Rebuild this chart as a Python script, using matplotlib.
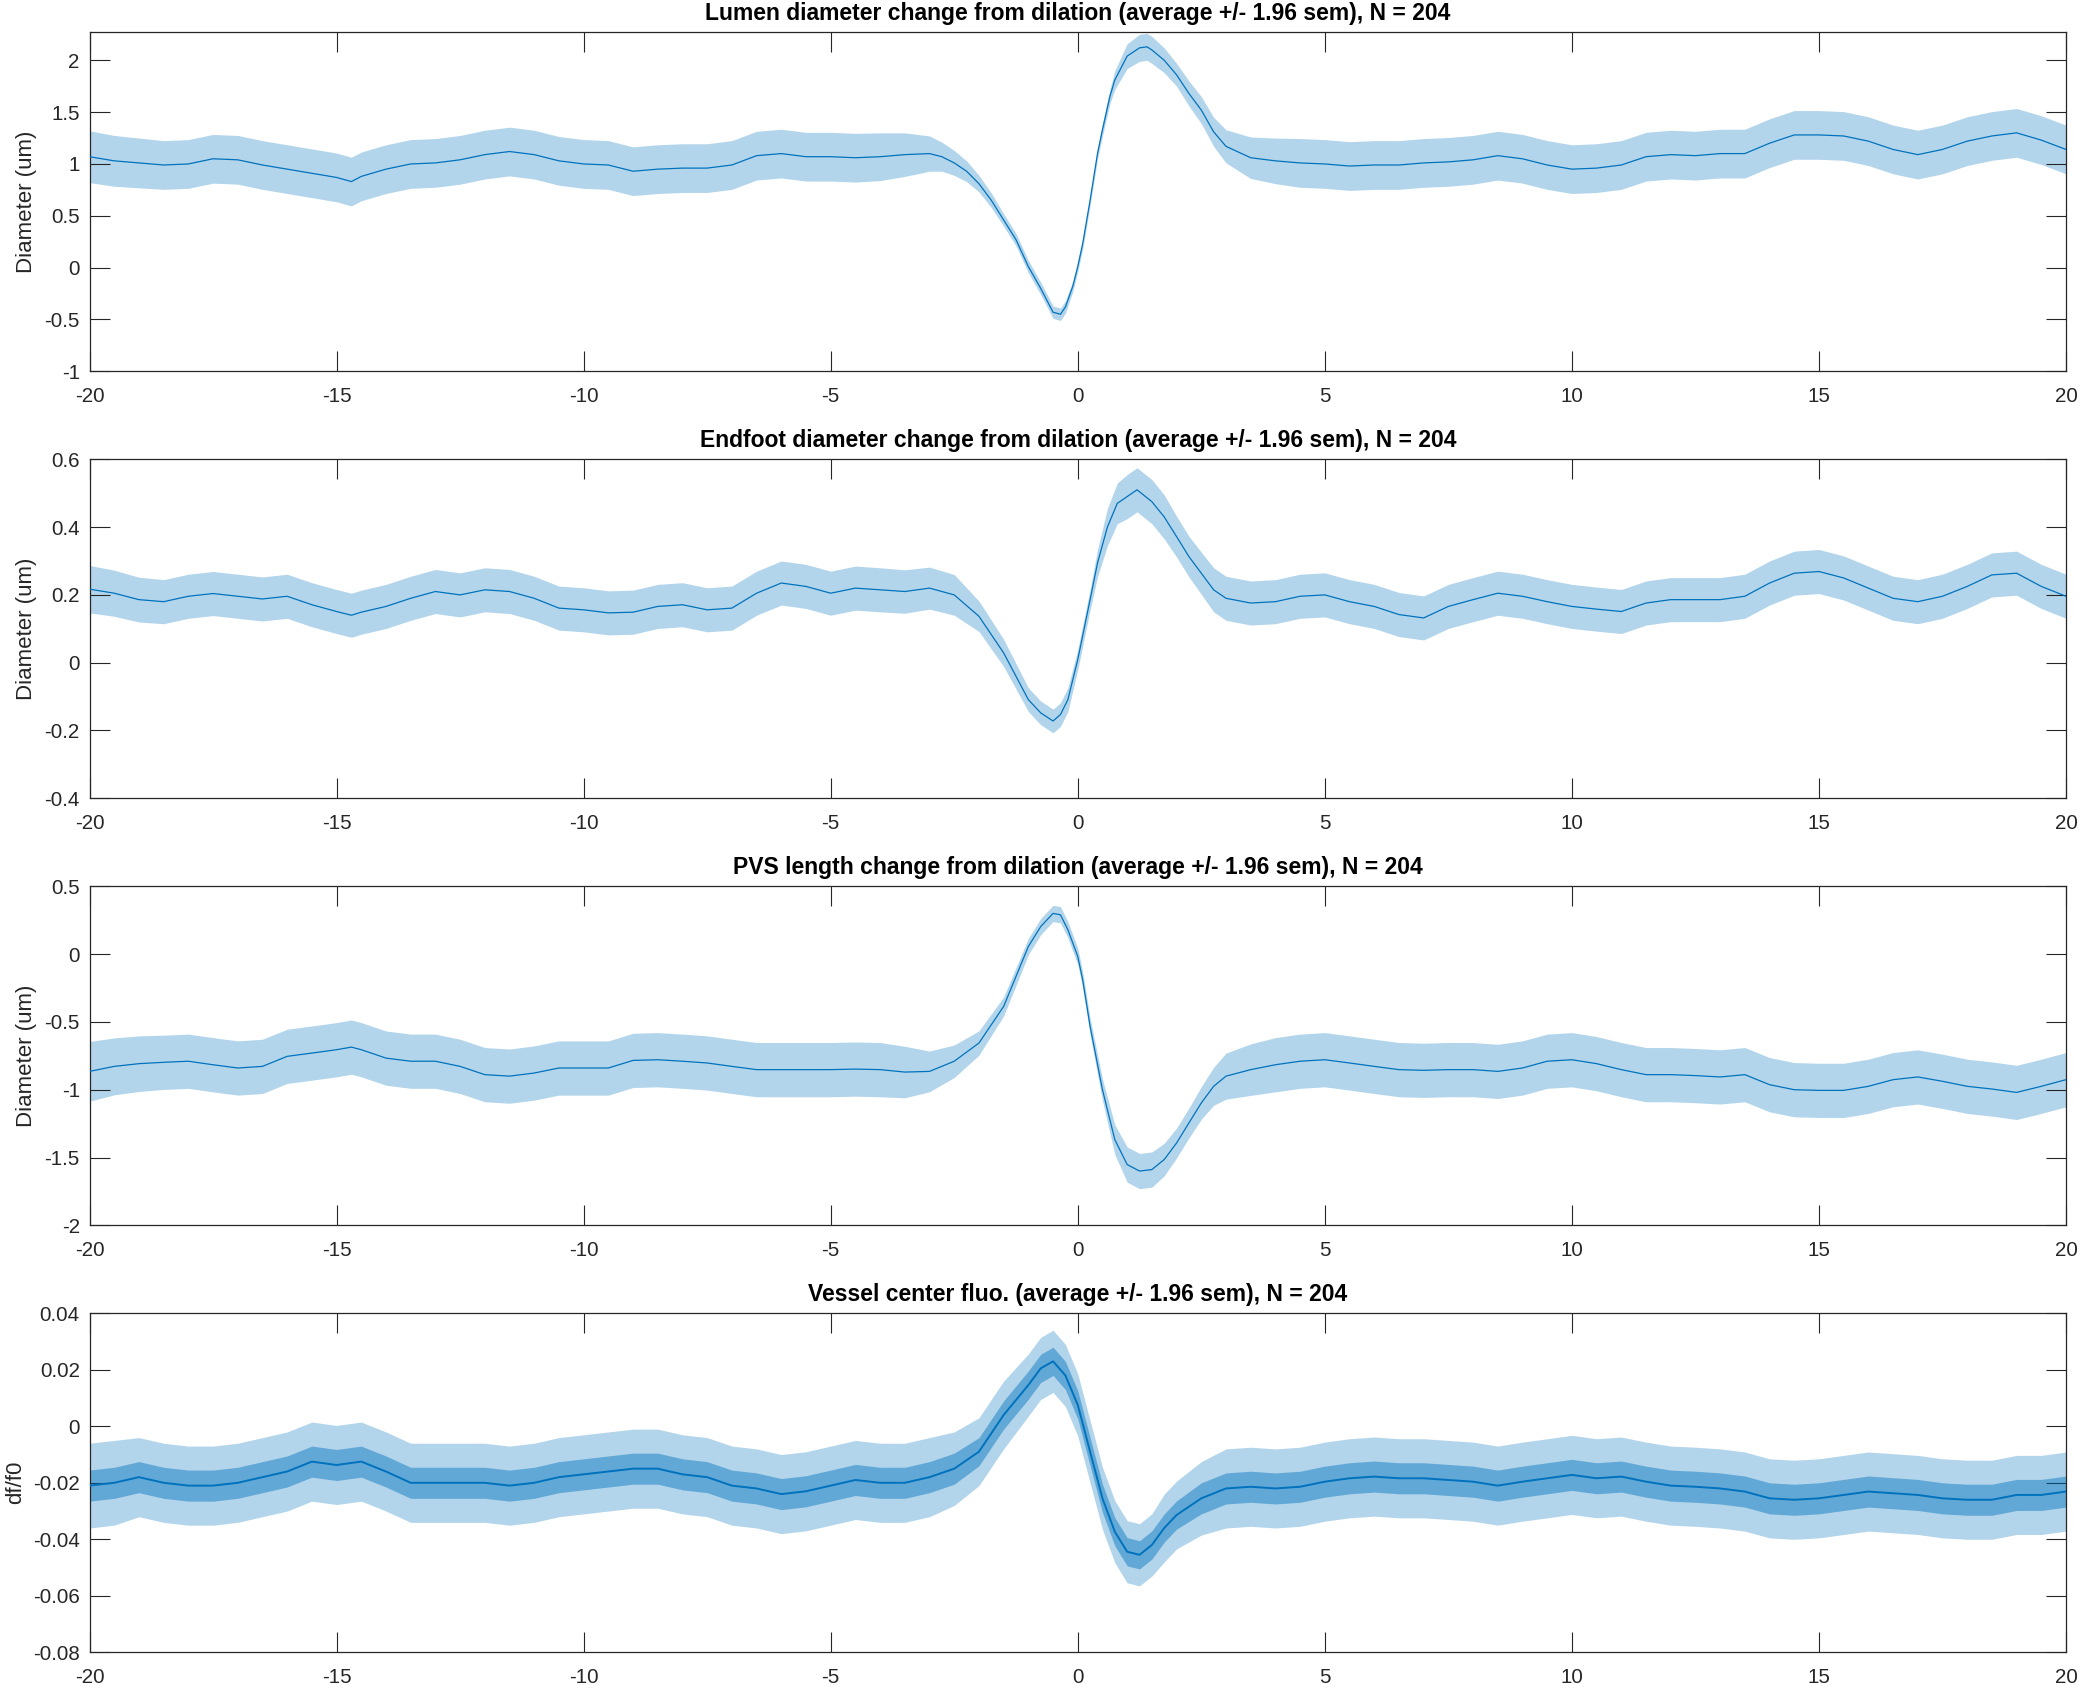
import numpy as np
import matplotlib
matplotlib.use('Agg')
import matplotlib.pyplot as plt

plt.rcParams['font.family'] = ['Liberation Sans', 'DejaVu Sans']
plt.rcParams['axes.unicode_minus'] = False

# ---------------- data ----------------
x_ticks = [-20, -15, -10, -5, 0, 5, 10, 15, 20]
x_ticklabels = ['-20', '-15', '-10', '-5', '0', '5', '10', '15', '20']

titles = [
    'Lumen diameter change from dilation (average +/- 1.96 sem), N = 204',
    'Endfoot diameter change from dilation (average +/- 1.96 sem), N = 204',
    'PVS length change from dilation (average +/- 1.96 sem), N = 204',
    'Vessel center fluo. (average +/- 1.96 sem), N = 204',
]
ylabels = ['Diameter (um)', 'Diameter (um)', 'Diameter (um)', 'df/f0']

# Panel 1: lumen
lumen_t = [-20, -19.5, -19, -18.5, -18, -17.5, -17, -16.5, -16, -15.5, -15, -14.7, -14.5, -14,
           -13.5, -13, -12.5, -12, -11.5, -11, -10.5, -10, -9.5, -9, -8.5, -8, -7.5, -7, -6.5,
           -6, -5.5, -5, -4.5, -4, -3.5, -3,
           -2.75, -2.5, -2.25, -2, -1.75, -1.5, -1.25, -1, -0.75, -0.5, -0.35, -0.25, -0.1, 0,
           0.1, 0.25, 0.4, 0.5, 0.65, 0.75, 1, 1.25, 1.4, 1.5, 1.75, 2, 2.25, 2.5, 2.75, 3,
           3.5, 4, 4.5, 5, 5.5, 6, 6.5, 7, 7.5, 8, 8.5, 9, 9.5, 10, 10.5, 11, 11.5, 12, 12.5, 13,
           13.5, 14, 14.5, 15, 15.5, 16, 16.5, 17, 17.5, 18, 18.5, 19, 19.5, 20]
lumen_mean = [1.07, 1.03, 1.01, 0.99, 1.00, 1.05, 1.04, 0.99, 0.95, 0.91, 0.87, 0.83, 0.88, 0.95,
              1.00, 1.01, 1.04, 1.09, 1.12, 1.09, 1.03, 1.00, 0.99, 0.93, 0.95, 0.96, 0.96, 0.99, 1.08,
              1.10, 1.07, 1.07, 1.06, 1.07, 1.09, 1.10,
              1.07, 1.01, 0.93, 0.81, 0.65, 0.46, 0.27, 0.01, -0.20, -0.43, -0.45, -0.38, -0.18, 0.01,
              0.23, 0.65, 1.10, 1.33, 1.65, 1.81, 2.04, 2.12, 2.13, 2.10, 2.00, 1.86, 1.68, 1.52, 1.31, 1.17,
              1.06, 1.03, 1.01, 1.00, 0.98, 0.99, 0.99, 1.01, 1.02, 1.04, 1.08, 1.05, 0.99, 0.95, 0.96, 0.99,
              1.07, 1.09, 1.08, 1.10, 1.10, 1.20, 1.28, 1.28, 1.27, 1.22, 1.14, 1.09, 1.14, 1.22, 1.27,
              1.30, 1.23, 1.14]
lumen_hw = [0.25, 0.245, 0.24, 0.235, 0.235, 0.235, 0.235, 0.235, 0.235, 0.235, 0.235, 0.235, 0.235, 0.235,
            0.235, 0.235, 0.235, 0.235, 0.235, 0.235, 0.235, 0.235, 0.235, 0.235, 0.235, 0.235, 0.235, 0.235, 0.235,
            0.235, 0.235, 0.235, 0.235, 0.23, 0.21, 0.17,
            0.14, 0.12, 0.10, 0.08, 0.07, 0.06, 0.06, 0.06, 0.06, 0.06, 0.06, 0.06, 0.05, 0.05,
            0.05, 0.05, 0.05, 0.06, 0.07, 0.09, 0.12, 0.13, 0.13, 0.13, 0.12, 0.11, 0.12, 0.13, 0.14, 0.16,
            0.20, 0.22, 0.235, 0.235, 0.235, 0.235, 0.235, 0.235, 0.235, 0.235, 0.235, 0.235, 0.235, 0.235, 0.235, 0.235,
            0.235, 0.235, 0.235, 0.235, 0.235, 0.235, 0.235, 0.235, 0.235, 0.235, 0.235, 0.235, 0.235, 0.235, 0.235,
            0.235, 0.235, 0.235]

# Panel 2: endfoot
endfoot_t = [-20, -19.5, -19, -18.5, -18, -17.5, -17, -16.5, -16, -15.5, -15, -14.7, -14.5, -14,
             -13.5, -13, -12.5, -12, -11.5, -11, -10.5, -10, -9.5, -9, -8.5, -8, -7.5, -7, -6.5,
             -6, -5.5, -5, -4.5, -4, -3.5, -3,
             -2.5, -2, -1.5, -1, -0.75, -0.5, -0.35, -0.2, 0, 0.25, 0.4, 0.6, 0.8, 1.0, 1.2, 1.5,
             1.75, 2, 2.25, 2.5, 2.75, 3,
             3.5, 4, 4.5, 5, 5.5, 6, 6.5, 7, 7.5, 8, 8.5, 9, 9.5, 10, 10.5, 11, 11.5, 12, 12.5, 13,
             13.5, 14, 14.5, 15, 15.5, 16, 16.5, 17, 17.5, 18, 18.5, 19, 19.5, 20]
endfoot_mean = [0.217, 0.205, 0.186, 0.18, 0.196, 0.204, 0.196, 0.188, 0.196, 0.171, 0.151, 0.14, 0.149, 0.166,
                0.19, 0.21, 0.20, 0.215, 0.21, 0.19, 0.161, 0.156, 0.147, 0.149, 0.166, 0.171, 0.156, 0.161, 0.205,
                0.235, 0.225, 0.205, 0.22, 0.215, 0.21, 0.22,
                0.20, 0.137, 0.029, -0.109, -0.148, -0.172, -0.153, -0.109, 0.009, 0.186, 0.294, 0.40, 0.47,
                0.49, 0.51, 0.475, 0.43, 0.372, 0.313, 0.264, 0.215, 0.19,
                0.176, 0.18, 0.196, 0.20, 0.18, 0.166, 0.142, 0.132, 0.166, 0.186, 0.205, 0.196, 0.18, 0.166,
                0.158, 0.151, 0.176, 0.186, 0.186, 0.186, 0.196, 0.235, 0.264, 0.269, 0.25, 0.22, 0.19, 0.18,
                0.196, 0.225, 0.259, 0.264, 0.225, 0.196]
endfoot_hw = [0.07, 0.068, 0.066, 0.065, 0.065, 0.065, 0.065, 0.065, 0.065, 0.065, 0.065, 0.065, 0.065, 0.065,
              0.065, 0.065, 0.065, 0.065, 0.065, 0.065, 0.065, 0.065, 0.065, 0.065, 0.065, 0.065, 0.065, 0.065, 0.065,
              0.065, 0.065, 0.065, 0.065, 0.065, 0.064, 0.062,
              0.06, 0.045, 0.04, 0.035, 0.035, 0.035, 0.035, 0.035, 0.03, 0.03, 0.04, 0.055, 0.06,
              0.065, 0.065, 0.065, 0.065, 0.06, 0.06, 0.062, 0.065, 0.065,
              0.065, 0.065, 0.065, 0.065, 0.065, 0.065, 0.065, 0.065, 0.065, 0.065, 0.065, 0.065, 0.065, 0.065,
              0.065, 0.065, 0.065, 0.065, 0.065, 0.065, 0.065, 0.065, 0.065, 0.065, 0.065, 0.065, 0.065, 0.065,
              0.065, 0.065, 0.065, 0.065, 0.065, 0.065]

# Panel 3: PVS length
pvs_t = [-20, -19.5, -19, -18.5, -18, -17.5, -17, -16.5, -16, -15.5, -15, -14.7, -14.5, -14,
         -13.5, -13, -12.5, -12, -11.5, -11, -10.5, -10, -9.5, -9, -8.5, -8, -7.5, -7, -6.5,
         -6, -5.5, -5, -4.5, -4, -3.5, -3,
         -2.5, -2, -1.5, -1, -0.75, -0.5, -0.35, -0.2, 0, 0.1, 0.25, 0.5, 0.75, 1, 1.25, 1.5,
         1.75, 2, 2.25, 2.5, 2.75, 3,
         3.5, 4, 4.5, 5, 5.5, 6, 6.5, 7, 7.5, 8, 8.5, 9, 9.5, 10, 10.5, 11, 11.5, 12, 12.5, 13,
         13.5, 14, 14.5, 15, 15.5, 16, 16.5, 17, 17.5, 18, 18.5, 19, 19.5, 20]
pvs_mean = [-0.865, -0.828, -0.808, -0.798, -0.79, -0.816, -0.84, -0.828, -0.754, -0.73, -0.705, -0.686,
            -0.705, -0.767, -0.79, -0.79, -0.828, -0.889, -0.90, -0.877, -0.84, -0.84, -0.84, -0.784,
            -0.779, -0.79, -0.803, -0.828, -0.852, -0.852, -0.852, -0.852, -0.848, -0.852, -0.87, -0.865,
            -0.79, -0.656, -0.386, 0.056, 0.203, 0.30, 0.29, 0.18, -0.017, -0.19, -0.533, -1.0, -1.368,
            -1.552, -1.60, -1.589, -1.515, -1.393, -1.245, -1.098, -0.975, -0.90,
            -0.852, -0.816, -0.79, -0.779, -0.803, -0.828, -0.852, -0.857, -0.852, -0.852, -0.865, -0.84,
            -0.79, -0.779, -0.808, -0.852, -0.889, -0.889, -0.896, -0.906, -0.889, -0.963, -1.0, -1.005,
            -1.005, -0.975, -0.926, -0.906, -0.938, -0.975, -0.995, -1.02, -0.975, -0.926]
pvs_hw = [0.22, 0.21, 0.205, 0.2, 0.2, 0.2, 0.2, 0.2, 0.2, 0.2, 0.2, 0.2, 0.2, 0.2,
          0.2, 0.2, 0.2, 0.2, 0.2, 0.2, 0.2, 0.2, 0.2, 0.2, 0.2, 0.2, 0.2, 0.2, 0.2,
          0.2, 0.2, 0.2, 0.2, 0.2, 0.19, 0.15,
          0.12, 0.09, 0.07, 0.06, 0.06, 0.06, 0.06, 0.06, 0.06, 0.06, 0.06, 0.08, 0.11,
          0.13, 0.13, 0.13, 0.12, 0.11, 0.11, 0.12, 0.14, 0.17,
          0.19, 0.2, 0.2, 0.2, 0.2, 0.2, 0.2, 0.2, 0.2, 0.2, 0.2, 0.2, 0.2, 0.2,
          0.2, 0.2, 0.2, 0.2, 0.2, 0.2, 0.2, 0.2, 0.2, 0.2, 0.2, 0.2, 0.2, 0.2,
          0.2, 0.2, 0.2, 0.2, 0.2, 0.2]

# Panel 4: vessel center fluorescence
fluo_t = [-20, -19.5, -19, -18.5, -18, -17.5, -17, -16.5, -16, -15.5, -15, -14.5, -14, -13.5,
          -13, -12.5, -12, -11.5, -11, -10.5, -10, -9.5, -9, -8.5, -8, -7.5, -7, -6.5, -6, -5.5,
          -5, -4.5, -4, -3.5, -3, -2.5, -2, -1.5, -1,
          -0.75, -0.5, -0.25, 0, 0.25, 0.5, 0.75, 1, 1.25, 1.5, 1.75, 2,
          2.5, 3, 3.5, 4, 4.5, 5, 5.5, 6, 6.5, 7, 7.5, 8, 8.5, 9, 9.5, 10, 10.5, 11, 11.5, 12,
          12.5, 13, 13.5, 14, 14.5, 15, 15.5, 16, 16.5, 17, 17.5, 18, 18.5, 19, 19.5, 20]
fluo_mean = [-0.021, -0.020, -0.018, -0.020, -0.021, -0.021, -0.020, -0.018, -0.016, -0.0125, -0.0137,
             -0.0125, -0.016, -0.020, -0.020, -0.020, -0.020, -0.021, -0.020, -0.018, -0.017, -0.016,
             -0.015, -0.015, -0.017, -0.018, -0.021, -0.022, -0.024, -0.023, -0.021, -0.019, -0.020,
             -0.020, -0.018, -0.015, -0.009, 0.004, 0.0146,
             0.0205, 0.023, 0.018, 0.0076, -0.009, -0.0255, -0.0373, -0.0444, -0.0455, -0.042, -0.036, -0.0314,
             -0.0255, -0.022, -0.0214, -0.022, -0.0214, -0.0196, -0.0184, -0.0178, -0.0184, -0.0184, -0.019,
             -0.0196, -0.021, -0.0196, -0.0184, -0.0172, -0.0184, -0.0178, -0.0196, -0.021, -0.0214, -0.022,
             -0.0231, -0.0255, -0.026, -0.0255, -0.0243, -0.0231, -0.0237, -0.0243, -0.0255, -0.026, -0.026,
             -0.0243, -0.0243, -0.0231]
fluo_hw = [0.015, 0.015, 0.014, 0.014, 0.014, 0.014, 0.014, 0.014, 0.014, 0.014, 0.014, 0.014, 0.014,
           0.014, 0.014, 0.014, 0.014, 0.014, 0.014, 0.014, 0.014, 0.014, 0.014, 0.014, 0.014, 0.014,
           0.014, 0.014, 0.014, 0.014, 0.014, 0.014, 0.014, 0.014, 0.014, 0.013, 0.012, 0.012, 0.011,
           0.011, 0.011, 0.011, 0.011, 0.011, 0.011, 0.011, 0.011, 0.011, 0.011, 0.012, 0.012,
           0.013, 0.014, 0.014, 0.014, 0.014, 0.014, 0.014, 0.014, 0.014, 0.014, 0.014, 0.014, 0.014,
           0.014, 0.014, 0.014, 0.014, 0.014, 0.014, 0.014, 0.014, 0.014, 0.014, 0.014, 0.014, 0.014,
           0.014, 0.014, 0.014, 0.014, 0.014, 0.014, 0.014, 0.014, 0.014, 0.014]
# visible spread of the noisy average trace itself
fluo_trace_spread = [0.0055, 0.0055, 0.0055, 0.0055, 0.0055, 0.0055, 0.0055, 0.0055, 0.0055, 0.0055, 0.0055,
                     0.0055, 0.0055, 0.0055, 0.0055, 0.0055, 0.0055, 0.0055, 0.0055, 0.0055, 0.0055, 0.0055,
                     0.0055, 0.0055, 0.0055, 0.0055, 0.0055, 0.0055, 0.0055, 0.0055, 0.0055, 0.0055, 0.0055,
                     0.0055, 0.0055, 0.0055, 0.005, 0.005, 0.005,
                     0.005, 0.005, 0.005, 0.005, 0.005, 0.005, 0.005, 0.005, 0.005, 0.005, 0.005, 0.005,
                     0.0055, 0.0055, 0.0055, 0.0055, 0.0055, 0.0055, 0.0055, 0.0055, 0.0055, 0.0055, 0.0055,
                     0.0055, 0.0055, 0.0055, 0.0055, 0.0055, 0.0055, 0.0055, 0.0055, 0.0055, 0.0055, 0.0055,
                     0.0055, 0.0055, 0.0055, 0.0055, 0.0055, 0.0055, 0.0055, 0.0055, 0.0055, 0.0055, 0.0055,
                     0.0055, 0.0055, 0.0055]

y_limits = [(-1, 2.27), (-0.4, 0.6), (-2, 0.5), (-0.08, 0.04)]
y_ticks = [[-1, -0.5, 0, 0.5, 1, 1.5, 2],
           [-0.4, -0.2, 0, 0.2, 0.4, 0.6],
           [-2, -1.5, -1, -0.5, 0, 0.5],
           [-0.08, -0.06, -0.04, -0.02, 0, 0.02, 0.04]]
y_ticklabels = [['-1', '-0.5', '0', '0.5', '1', '1.5', '2'],
                ['-0.4', '-0.2', '0', '0.2', '0.4', '0.6'],
                ['-2', '-1.5', '-1', '-0.5', '0', '0.5'],
                ['-0.08', '-0.06', '-0.04', '-0.02', '0', '0.02', '0.04']]

series = [(lumen_t, lumen_mean, lumen_hw, None),
          (endfoot_t, endfoot_mean, endfoot_hw, None),
          (pvs_t, pvs_mean, pvs_hw, None),
          (fluo_t, fluo_mean, fluo_hw, fluo_trace_spread)]

# ---------------- styling / layout ----------------
BAND = '#B3D5EB'
LINE = '#0072BD'
AXC = '#262626'
W, H = 2079, 1685
ax_left, ax_w, ax_h = 89.5, 1976.5, 339.0
ax_tops = [32.3, 459.3, 886.3, 1313.3]

fig = plt.figure(figsize=(W / 100, H / 100), dpi=100)
fig.patch.set_facecolor('white')

for i, (t, m, hw, spread) in enumerate(series):
    top = ax_tops[i]
    ax = fig.add_axes([ax_left / W, 1 - (top + ax_h) / H, ax_w / W, ax_h / H])
    t = np.asarray(t, dtype=float)
    m = np.asarray(m, dtype=float)
    hw = np.asarray(hw, dtype=float)
    ax.fill_between(t, m - hw, m + hw, color=BAND, linewidth=0, zorder=1)
    if spread is not None:
        sp = np.asarray(spread, dtype=float)
        ax.fill_between(t, m - sp, m + sp, color=LINE, alpha=0.45, linewidth=0, zorder=2)
        ax.plot(t, m, color=LINE, lw=1.4, zorder=3)
    else:
        ax.plot(t, m, color=LINE, lw=0.9, zorder=3)

    ax.set_xlim(-20, 20)
    ax.set_ylim(*y_limits[i])
    ax.set_xticks(x_ticks)
    ax.set_xticklabels(x_ticklabels)
    ax.set_yticks(y_ticks[i])
    ax.set_yticklabels(y_ticklabels[i])
    ax.tick_params(axis='both', direction='in', length=14.4, width=0.8, color=AXC,
                   labelcolor=AXC, labelsize=14.8, top=True, right=True)
    ax.tick_params(axis='x', pad=11.0)
    ax.tick_params(axis='y', pad=7.0)
    for s in ax.spines.values():
        s.set_color(AXC)
        s.set_linewidth(0.9)
    ax.set_title(titles[i], fontsize=16.5, fontweight='bold', pad=8.6, color='black')
    ax.set_ylabel(ylabels[i], fontsize=16, labelpad=5, color=AXC)

fig.savefig('out.png', dpi=100, facecolor='white')
